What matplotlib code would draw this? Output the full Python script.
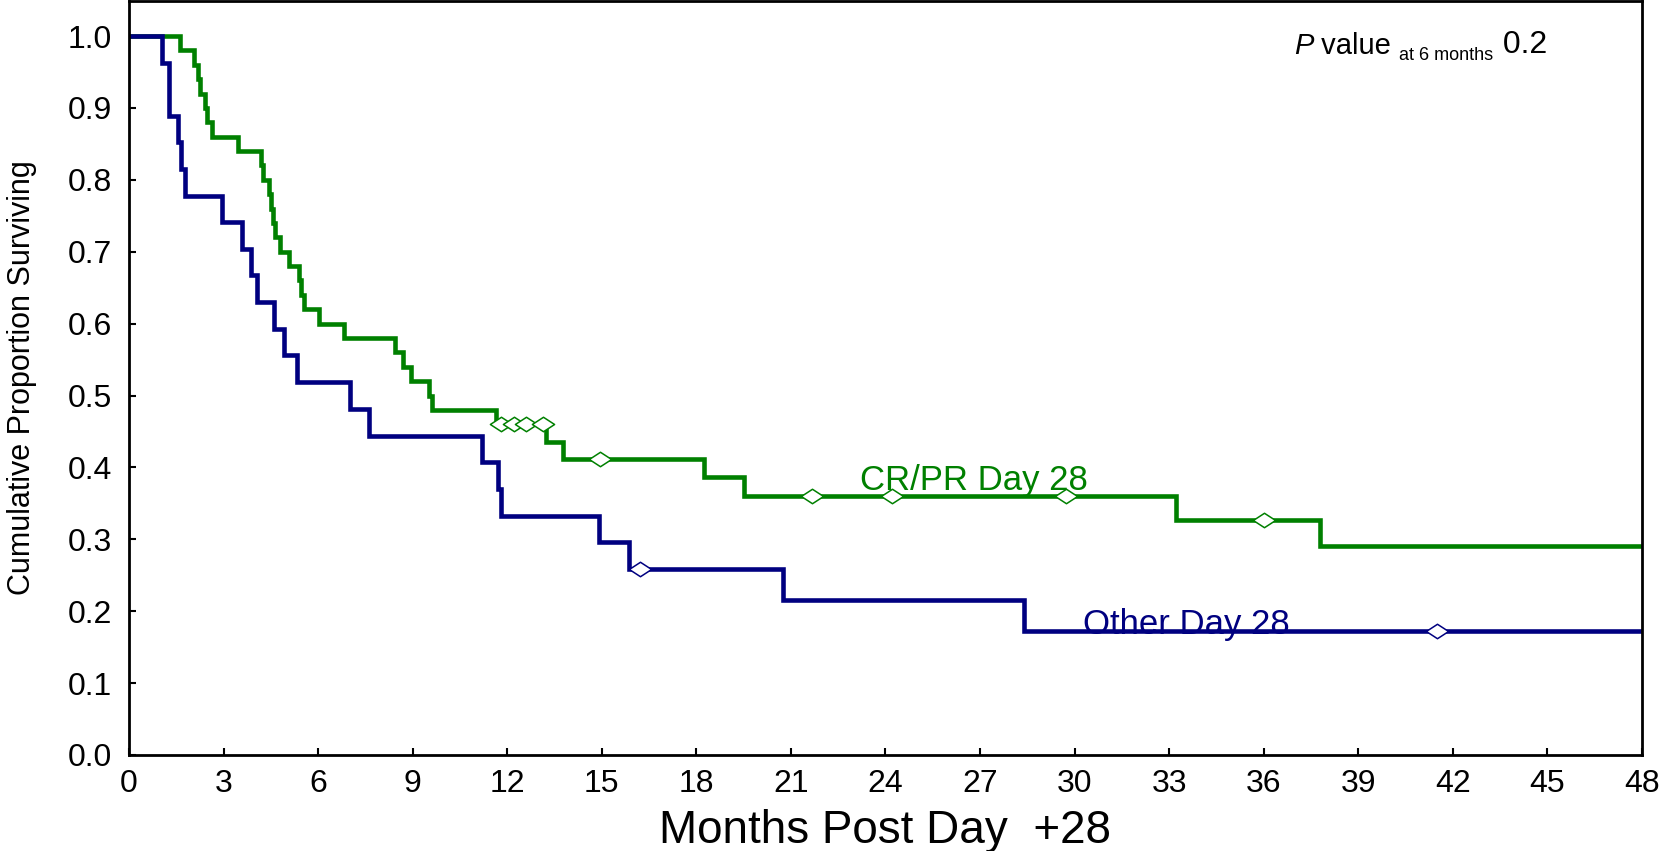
import matplotlib
matplotlib.use("Agg")
import matplotlib.pyplot as plt
from matplotlib.path import Path

# ---- data ----
other_t = [0, 1.05, 1.28, 1.54, 1.65, 1.79, 2.94, 3.6, 3.87, 4.06, 4.61, 4.92, 5.33, 7.02, 7.6,
           11.21, 11.71, 11.79, 14.91, 15.86, 20.75, 28.39, 48]
other_s = [1.0, 0.963, 0.889, 0.852, 0.815, 0.778, 0.741, 0.704, 0.667, 0.630, 0.593, 0.556, 0.519,
           0.481, 0.444, 0.407, 0.370, 0.333, 0.296, 0.259, 0.216, 0.173, 0.173]
other_cens_t = [16.2, 41.5]
other_cens_s = [0.259, 0.173]

crpr_t = [0, 1.62, 2.05, 2.18, 2.25, 2.42, 2.49, 2.63, 3.45, 4.19, 4.24, 4.45, 4.52, 4.56, 4.63,
          4.79, 5.08, 5.40, 5.45, 5.55, 6.03, 6.83, 8.43, 8.70, 8.94, 9.52, 9.61, 11.64, 13.22,
          13.78, 18.24, 19.51, 33.23, 37.77, 48]
crpr_s = [1.0, 0.98, 0.96, 0.94, 0.92, 0.90, 0.88, 0.86, 0.84, 0.82, 0.80, 0.78, 0.76, 0.74, 0.72,
          0.70, 0.68, 0.66, 0.64, 0.62, 0.60, 0.58, 0.56, 0.54, 0.52, 0.50, 0.48, 0.46, 0.436,
          0.412, 0.386, 0.360, 0.327, 0.291, 0.291]
crpr_cens_t = [11.8, 12.2, 12.6, 13.15, 14.95, 21.66, 24.22, 29.73, 36.02]
crpr_cens_s = [0.46, 0.46, 0.46, 0.46, 0.412, 0.36, 0.36, 0.36, 0.327]

xticks = list(range(0, 49, 3))
yticks = [0.0, 0.1, 0.2, 0.3, 0.4, 0.5, 0.6, 0.7, 0.8, 0.9, 1.0]
ytick_labels = ["0.0", "0.1", "0.2", "0.3", "0.4", "0.5", "0.6", "0.7", "0.8", "0.9", "1.0"]

GREEN = "#008000"
BLUE = "#000080"

plt.rcParams["font.family"] = ["Liberation Sans", "DejaVu Sans"]

fig = plt.figure(figsize=(16.61, 8.51), dpi=100)
ax = fig.add_axes([129 / 1661, 1 - 755 / 851, (1642 - 129) / 1661, (755 - 1) / 851])

diamond = Path([(-1, 0), (0, 0.65), (1, 0), (0, -0.65), (-1, 0)],
               [Path.MOVETO, Path.LINETO, Path.LINETO, Path.LINETO, Path.CLOSEPOLY])

ax.step(crpr_t, crpr_s, where="post", color=GREEN, lw=3.3, solid_joinstyle="miter", zorder=2)
ax.step(other_t, other_s, where="post", color=BLUE, lw=3.3, solid_joinstyle="miter", zorder=2)
ax.plot(crpr_cens_t, crpr_cens_s, ls="none", marker=diamond, ms=16, mfc="white", mec=GREEN,
        mew=1.1, zorder=3)
ax.plot(other_cens_t, other_cens_s, ls="none", marker=diamond, ms=16, mfc="white", mec=BLUE,
        mew=1.1, zorder=3)

ax.set_xlim(0, 48)
ax.set_ylim(0, 1.0487)
ax.set_xticks(xticks)
ax.set_xticklabels([str(t) for t in xticks])
ax.set_yticks(yticks)
ax.set_yticklabels(ytick_labels)
ax.tick_params(direction="in", length=5, width=1.5, labelsize=23, pad=10)
ax.tick_params(axis="y", pad=12)
for sp in ax.spines.values():
    sp.set_linewidth(2.0)

ax.set_xlabel("Months Post Day  +28", fontsize=33, labelpad=7)
ax.set_ylabel("Cumulative Proportion Surviving", fontsize=22)
ax.yaxis.set_label_coords(-0.061, 0.5)

ax.text(23.19, 0.382, "CR/PR Day 28", color=GREEN, fontsize=25, ha="left", va="center")
ax.text(30.27, 0.181, "Other Day 28", color=BLUE, fontsize=25, ha="left", va="center")

t1 = ax.text(36.96, 0.975, "P", fontsize=21, style="italic", ha="left", va="baseline")
t2 = ax.annotate(" value ", xy=(1, 0), xycoords=t1, fontsize=21, ha="left", va="bottom")
t3 = ax.annotate("at 6 months", xy=(1, 0), xycoords=t2, xytext=(0, -3), textcoords="offset points",
                 fontsize=13, ha="left", va="bottom")
t4 = ax.annotate(" 0.2", xy=(1, 0), xycoords=t3, xytext=(0, 3), textcoords="offset points",
                 fontsize=23, ha="left", va="bottom")

fig.savefig("out.png", dpi=100)
